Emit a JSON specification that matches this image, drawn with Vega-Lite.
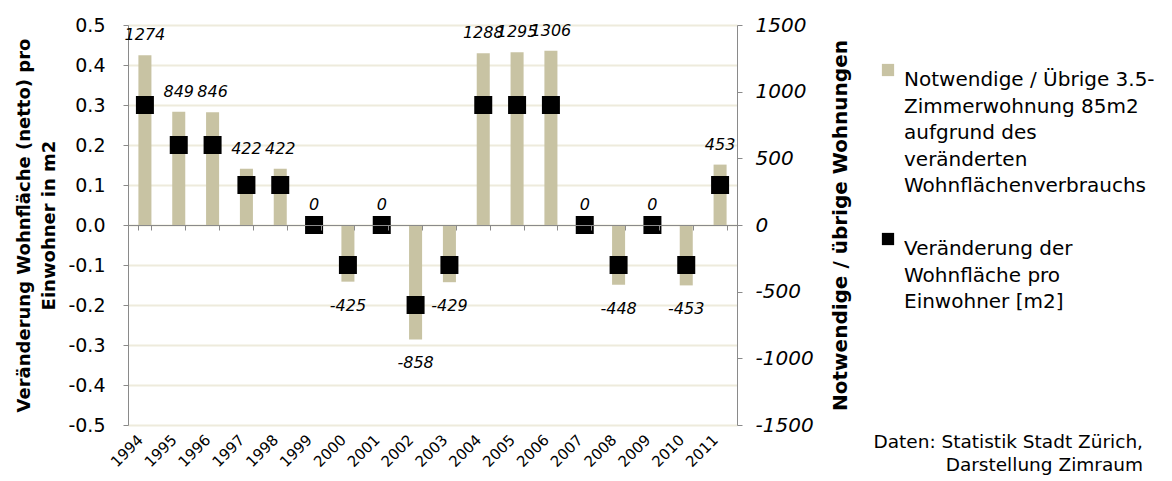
{
  "$schema": "https://vega.github.io/schema/vega-lite/v6.json",
  "width": 609,
  "height": 400,
  "autosize": "none",
  "padding": {"left": 128, "top": 25, "right": 435, "bottom": 56},
  "background": "white",
  "config": {
    "font": "DejaVu Sans",
    "view": {"stroke": null},
    "axis": {"domainColor": "#8a8a8a", "tickColor": "#8a8a8a", "labelColor": "#000000", "titleColor": "#000000", "labelFont": "DejaVu Sans", "titleFont": "DejaVu Sans"},
    "legend": {"labelFont": "DejaVu Sans"},
    "style": {"guide-label": {"lineHeight": 26.5}}
  },
  "title": {
    "text": ["Daten: Statistik Stadt Zürich,", "Darstellung Zimraum"],
    "orient": "top",
    "anchor": "end",
    "frame": "group",
    "align": "right",
    "dx": 406,
    "dy": 463,
    "fontSize": 18.5,
    "fontWeight": "normal",
    "font": "DejaVu Sans",
    "lineHeight": 23,
    "color": "#000000"
  },
  "data": {
    "values": [
      {"year": "1994", "wohnungen": 1274, "flaeche": 0.3},
      {"year": "1995", "wohnungen": 849, "flaeche": 0.2},
      {"year": "1996", "wohnungen": 846, "flaeche": 0.2},
      {"year": "1997", "wohnungen": 422, "flaeche": 0.1},
      {"year": "1998", "wohnungen": 422, "flaeche": 0.1},
      {"year": "1999", "wohnungen": 0, "flaeche": 0.0},
      {"year": "2000", "wohnungen": -425, "flaeche": -0.1},
      {"year": "2001", "wohnungen": 0, "flaeche": 0.0},
      {"year": "2002", "wohnungen": -858, "flaeche": -0.2},
      {"year": "2003", "wohnungen": -429, "flaeche": -0.1},
      {"year": "2004", "wohnungen": 1288, "flaeche": 0.3},
      {"year": "2005", "wohnungen": 1295, "flaeche": 0.3},
      {"year": "2006", "wohnungen": 1306, "flaeche": 0.3},
      {"year": "2007", "wohnungen": 0, "flaeche": 0.0},
      {"year": "2008", "wohnungen": -448, "flaeche": -0.1},
      {"year": "2009", "wohnungen": 0, "flaeche": 0.0},
      {"year": "2010", "wohnungen": -453, "flaeche": -0.1},
      {"year": "2011", "wohnungen": 453, "flaeche": 0.1}
    ]
  },
  "encoding": {
    "x": {
      "field": "year",
      "type": "ordinal",
      "scale": {"paddingInner": 0.615, "paddingOuter": 0.3075},
      "axis": {
        "title": null,
        "labelAngle": -45,
        "labelAlign": "right",
        "labelBaseline": "middle",
        "labelFontSize": 15,
        "labelPadding": 207,
        "labelOffset": -5,
        "offset": -200,
        "tickBand": "extent",
        "tickSize": 5,
        "domainColor": "#8a8a8a",
        "grid": false,
        "zindex": 1
      }
    }
  },
  "layer": [
    {
      "mark": {"type": "bar", "color": "#c8c3a3"},
      "encoding": {
        "y": {
          "field": "wohnungen",
          "type": "quantitative",
          "scale": {"domain": [-1500, 1500], "nice": false},
          "axis": {
            "orient": "right",
            "title": "Notwendige / übrige Wohnungen",
            "titleFontSize": 20,
            "titleFontWeight": "bold",
            "titleAngle": -90,
            "titlePadding": 37,
            "values": [-1500, -1000, -500, 0, 500, 1000, 1500],
            "labelExpr": "toString(datum.value)",
            "labelFontSize": 20,
            "labelFontStyle": "italic",
            "labelPadding": 13,
            "tickSize": 5,
            "grid": false
          }
        },
        "color": {
          "datum": "Notwendige / Übrige 3.5-|Zimmerwohnung 85m2|aufgrund des|veränderten|Wohnflächenverbrauchs",
          "type": "nominal",
          "scale": {
            "domain": ["Notwendige / Übrige 3.5-|Zimmerwohnung 85m2|aufgrund des|veränderten|Wohnflächenverbrauchs", "Veränderung der|Wohnfläche pro|Einwohner [m2]"],
            "range": ["#c8c3a3", "#000000"]
          },
          "legend": {
            "title": null,
            "orient": "none",
            "legendX": 750,
            "legendY": 35,
            "symbolType": "square",
            "symbolSize": 150,
            "symbolStrokeWidth": 0,
            "labelFontSize": 20,
            "labelLimit": 400,
            "labelOffset": 6,
            "rowPadding": 33,
            "labelExpr": "split(datum.label, '|')",
            "labelBaseline": "top"
          }
        }
      }
    },
    {
      "transform": [{"filter": "datum.wohnungen >= 0"}],
      "mark": {"type": "text", "fontStyle": "italic", "fontSize": 16, "baseline": "alphabetic", "dy": -15},
      "encoding": {
        "y": {"field": "wohnungen", "type": "quantitative", "scale": {"domain": [-1500, 1500], "nice": false}, "axis": null},
        "text": {"field": "wohnungen", "type": "nominal"}
      }
    },
    {
      "transform": [{"filter": "datum.wohnungen < 0"}],
      "mark": {"type": "text", "fontStyle": "italic", "fontSize": 16, "baseline": "top", "dy": 16},
      "encoding": {
        "y": {"field": "wohnungen", "type": "quantitative", "scale": {"domain": [-1500, 1500], "nice": false}, "axis": null},
        "text": {"field": "wohnungen", "type": "nominal"}
      }
    },
    {
      "mark": {"type": "point", "shape": "square", "filled": true, "size": 324, "opacity": 1},
      "encoding": {
        "y": {
          "field": "flaeche",
          "type": "quantitative",
          "scale": {"domain": [-0.5, 0.5], "nice": false},
          "axis": {
            "orient": "left",
            "title": ["Veränderung Wohnfläche (netto) pro", "Einwohner in m2"],
            "titleFontSize": 18,
            "titleFontWeight": "bold",
            "titlePadding": 9,
            "titleLineHeight": 25,
            "values": [-0.5, -0.4, -0.3, -0.2, -0.1, 0, 0.1, 0.2, 0.3, 0.4, 0.5],
            "labelExpr": "replace(format(datum.value, '.1f'), '−', '-')",
            "labelFontSize": 19,
            "labelPadding": 18,
            "tickSize": 5,
            "grid": true,
            "gridColor": "#eeebdc",
            "gridWidth": 2,
            "zindex": 0
          }
        },
        "color": {"datum": "Veränderung der|Wohnfläche pro|Einwohner [m2]", "type": "nominal"}
      }
    }
  ],
  "resolve": {"scale": {"y": "independent"}, "axis": {"y": "independent"}}
}
